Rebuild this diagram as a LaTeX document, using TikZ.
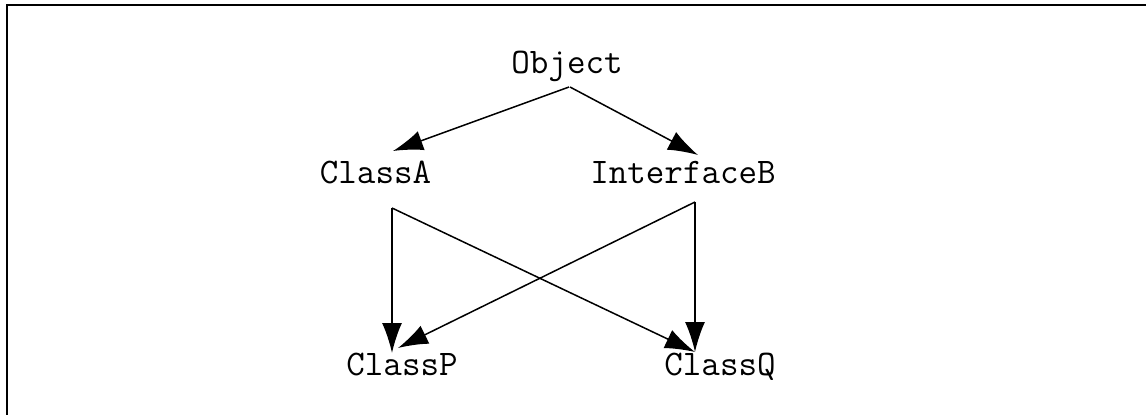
\documentclass[tikz,border=0pt]{standalone}
\usetikzlibrary{arrows.meta}
\begin{document}
\begin{tikzpicture}[x=1pt,y=-1pt,
  cls/.style={anchor=base,inner sep=0pt,font=\fontsize{36}{36}\selectfont\ttfamily},
  arr/.style={line width=1.5pt,-{Latex[length=30pt,width=20pt]}}]
\useasboundingbox (0,0) rectangle (1146,415);
% frame edges
\draw[line width=2pt] (6.5,415) -- (6.5,5) -- (1146,5);
% class nodes
\node[cls] (obj) at (567,73) {Object};
\node[cls] (a) at (375.5,183) {ClassA};
\node[cls] (b) at (683,183) {InterfaceB};
\node[cls] (p) at (402,375) {ClassP};
\node[cls] (q) at (720,375) {ClassQ};
% inheritance arrows
\draw[arr] ([xshift=2pt,yshift=-14pt]obj.base) -- ([xshift=17.5pt,yshift=32pt]a.base);
\draw[arr] ([xshift=3pt,yshift=-14pt]obj.base) -- ([xshift=15pt,yshift=28pt]b.base);
\draw[arr] ([xshift=16.5pt,yshift=-25pt]a.base) -- ([xshift=-10pt,yshift=22pt]p.base);
\draw[arr] ([xshift=16.5pt,yshift=-25pt]a.base) -- ([xshift=-25pt,yshift=23pt]q.base);
\draw[arr] ([xshift=12pt,yshift=-19pt]b.base) -- ([xshift=-4pt,yshift=27pt]p.base);
\draw[arr] ([xshift=12pt,yshift=-19pt]b.base) -- ([xshift=-25pt,yshift=23pt]q.base);
\end{tikzpicture}
\end{document}
